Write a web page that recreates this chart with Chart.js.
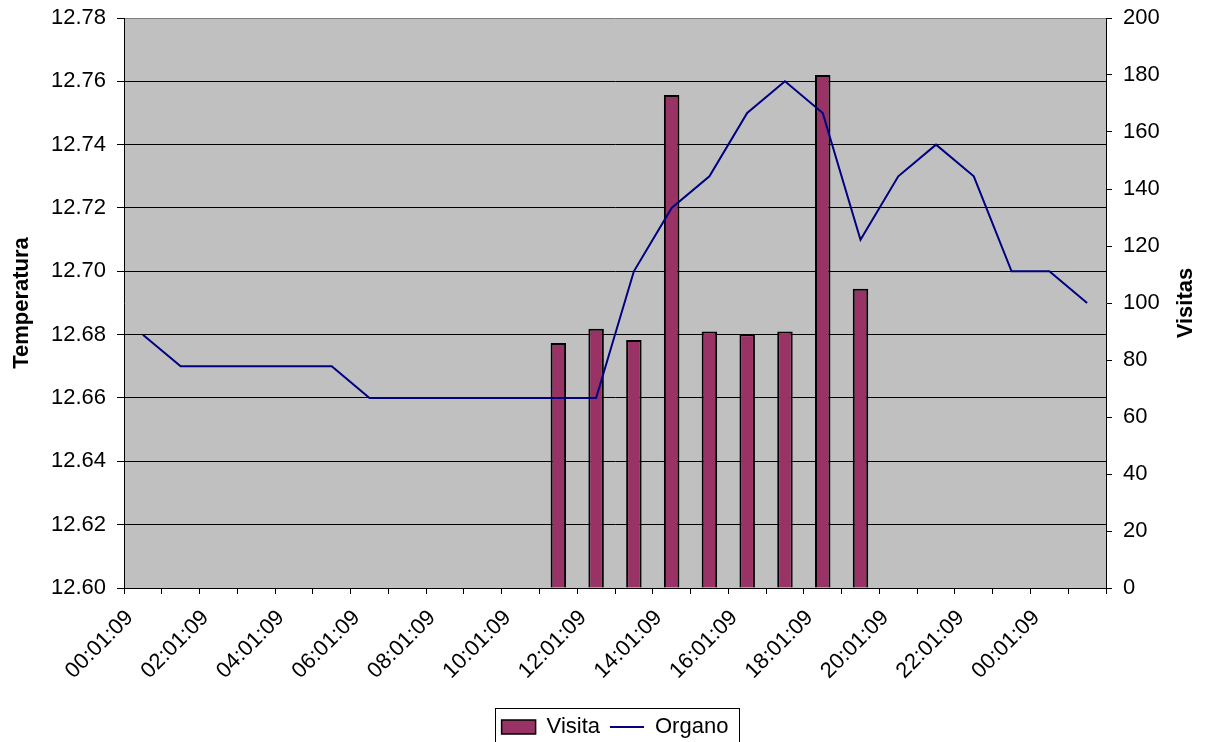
<!DOCTYPE html>
<html>
<head>
<meta charset="utf-8">
<title>Temperatura y visitas</title>
<style>
  html, body { margin: 0; padding: 0; background: #ffffff; overflow: hidden; }
  #wrap { width: 1209px; height: 748px; }
</style>
<script src="https://cdn.jsdelivr.net/npm/chart.js@4.4.1/dist/chart.umd.min.js"></script>
</head>
<body>
<div id="wrap"><canvas id="chart" width="1209" height="748"></canvas></div>
<script>
// Hourly readings over one day (plus the first hours of the next one)
const hours = [
  '00:01:09', '01:01:09', '02:01:09', '03:01:09', '04:01:09', '05:01:09',
  '06:01:09', '07:01:09', '08:01:09', '09:01:09', '10:01:09', '11:01:09',
  '12:01:09', '13:01:09', '14:01:09', '15:01:09', '16:01:09', '17:01:09',
  '18:01:09', '19:01:09', '20:01:09', '21:01:09', '22:01:09', '23:01:09',
  '00:01:09', '01:01:09'
];

// Number of visits per hour (right axis)
const visitas = [
  null, null, null, null, null, null, null, null, null, null, null,
  86, 91, 87, 173, 90, 89, 90, 180, 105,
  null, null, null, null, null, null
];

// Organ temperature per hour (left axis)
const temperatura = [
  12.68, 12.67, 12.67, 12.67, 12.67, 12.67, 12.66, 12.66, 12.66, 12.66,
  12.66, 12.66, 12.66, 12.70, 12.72, 12.73, 12.75, 12.76, 12.75, 12.71,
  12.73, 12.74, 12.73, 12.70, 12.70, 12.69
];

const tempTicks = { min: 12.60, max: 12.78, step: 0.02 };
const visitTicks = { min: 0, max: 200, step: 20 };

const leftTitle = 'Temperatura';
const rightTitle = 'Visitas';

const FONT = "'Liberation Sans', Arial, sans-serif";
Chart.defaults.font.family = FONT;
Chart.defaults.font.size = 22;
Chart.defaults.color = '#000000';

// Gray plot background, reversed right-axis title and the legend frame
const plotFrame = {
  id: 'plotFrame',
  beforeDraw(chart) {
    const { ctx, chartArea: a } = chart;
    ctx.save();
    ctx.fillStyle = '#ffffff';
    ctx.fillRect(0, 0, chart.width, chart.height);
    ctx.fillStyle = '#C0C0C0';
    ctx.fillRect(a.left, a.top, a.right - a.left, a.bottom - a.top);
    ctx.restore();
  },
  afterDraw(chart) {
    const { ctx, chartArea: a } = chart;
    ctx.save();
    // right axis title, read from bottom to top
    ctx.font = 'bold 22px ' + FONT;
    ctx.fillStyle = '#000000';
    ctx.textAlign = 'center';
    ctx.textBaseline = 'middle';
    ctx.translate(1186, (a.top + a.bottom) / 2);
    ctx.rotate(-Math.PI / 2);
    ctx.fillText(rightTitle, 0, 0);
    ctx.restore();

    // legend frame
    const lg = chart.legend;
    if (lg && lg.legendHitBoxes && lg.legendHitBoxes.length) {
      const boxes = lg.legendHitBoxes;
      const l = boxes[0].left;
      const last = boxes[boxes.length - 1];
      const r = last.left + last.width;
      const cy = boxes[0].top + boxes[0].height / 2;
      ctx.save();
      ctx.strokeStyle = '#000000';
      ctx.lineWidth = 1;
      ctx.strokeRect(Math.round(l - 7) + 0.5, Math.round(cy - 19) + 0.5, Math.round(r - l + 17), 60);
      ctx.restore();
    }
  }
};

new Chart(document.getElementById('chart'), {
  type: 'bar',
  data: {
    labels: hours,
    datasets: [
      {
        type: 'bar',
        label: 'Visita',
        data: visitas,
        yAxisID: 'y1',
        backgroundColor: '#993366',
        borderColor: '#000000',
        borderWidth: 2,
        barPercentage: 0.41,
        categoryPercentage: 1,
        order: 2
      },
      {
        type: 'line',
        label: 'Organo',
        data: temperatura,
        yAxisID: 'y',
        borderColor: '#000080',
        backgroundColor: '#000080',
        borderWidth: 2,
        pointRadius: 0,
        pointHoverRadius: 0,
        tension: 0,
        fill: false,
        order: 1
      }
    ]
  },
  options: {
    responsive: false,
    animation: false,
    events: [],
    layout: { padding: { top: 18, left: 0, right: 0, bottom: 0 } },
    scales: {
      x: {
        offset: true,
        grid: { offset: true, drawOnChartArea: false, drawTicks: true, tickLength: 6, color: '#000000' },
        border: { display: true, color: '#000000', width: 1 },
        ticks: {
          autoSkip: false,
          maxRotation: 45,
          minRotation: 45,
          padding: 11,
          labelOffset: -13,
          color: '#000000',
          callback: function (value, index) {
            return index % 2 === 0 ? this.getLabelForValue(value) : '';
          }
        },
        afterFit: (s) => { s.height = 118; }
      },
      y: {
        position: 'left',
        min: tempTicks.min,
        max: tempTicks.max,
        grid: {
          color: (c) => (c.tick && c.tick.value > tempTicks.max - 1e-6 ? '#808080' : '#000000'),
          tickColor: '#000000',
          tickLength: 7,
          lineWidth: 1
        },
        border: { display: true, color: '#000000', width: 1 },
        ticks: {
          stepSize: tempTicks.step,
          padding: 11,
          color: '#000000',
          callback: (v) => Number(v).toFixed(2)
        },
        title: {
          display: true,
          text: leftTitle,
          font: { size: 22, weight: 'bold' },
          color: '#000000',
          padding: { top: 8.5, bottom: 0 }
        },
        afterFit: (s) => { s.width = 124; s.paddingTop = 6; s.paddingBottom = 6; }
      },
      y1: {
        position: 'right',
        min: visitTicks.min,
        max: visitTicks.max,
        grid: { drawOnChartArea: false, tickLength: 6, color: '#000000' },
        border: { display: true, color: '#000000', width: 1 },
        ticks: { stepSize: visitTicks.step, padding: 11, color: '#000000' },
        afterFit: (s) => { s.width = 103; s.paddingTop = 6; s.paddingBottom = 6; }
      }
    },
    plugins: {
      tooltip: { enabled: false },
      legend: {
        position: 'bottom',
        fullSize: false,
        labels: {
          usePointStyle: true,
          pointStyleWidth: 34,
          boxHeight: 14,
          padding: 10,
          color: '#000000',
          font: { size: 22 },
          sort: (a, b) => a.datasetIndex - b.datasetIndex,
          generateLabels: (chart) => {
            const items = Chart.defaults.plugins.legend.labels.generateLabels(chart);
            items.forEach((it) => {
              const ds = chart.data.datasets[it.datasetIndex];
              if (ds.type === 'line') {
                it.pointStyle = 'line';
                it.strokeStyle = ds.borderColor;
                it.lineWidth = 2;
              } else {
                it.pointStyle = 'rect';
                it.fillStyle = ds.backgroundColor;
                it.strokeStyle = '#000000';
                it.lineWidth = 1.5;
              }
            });
            return items;
          }
        }
      }
    }
  },
  plugins: [plotFrame]
});
</script>
</body>
</html>
